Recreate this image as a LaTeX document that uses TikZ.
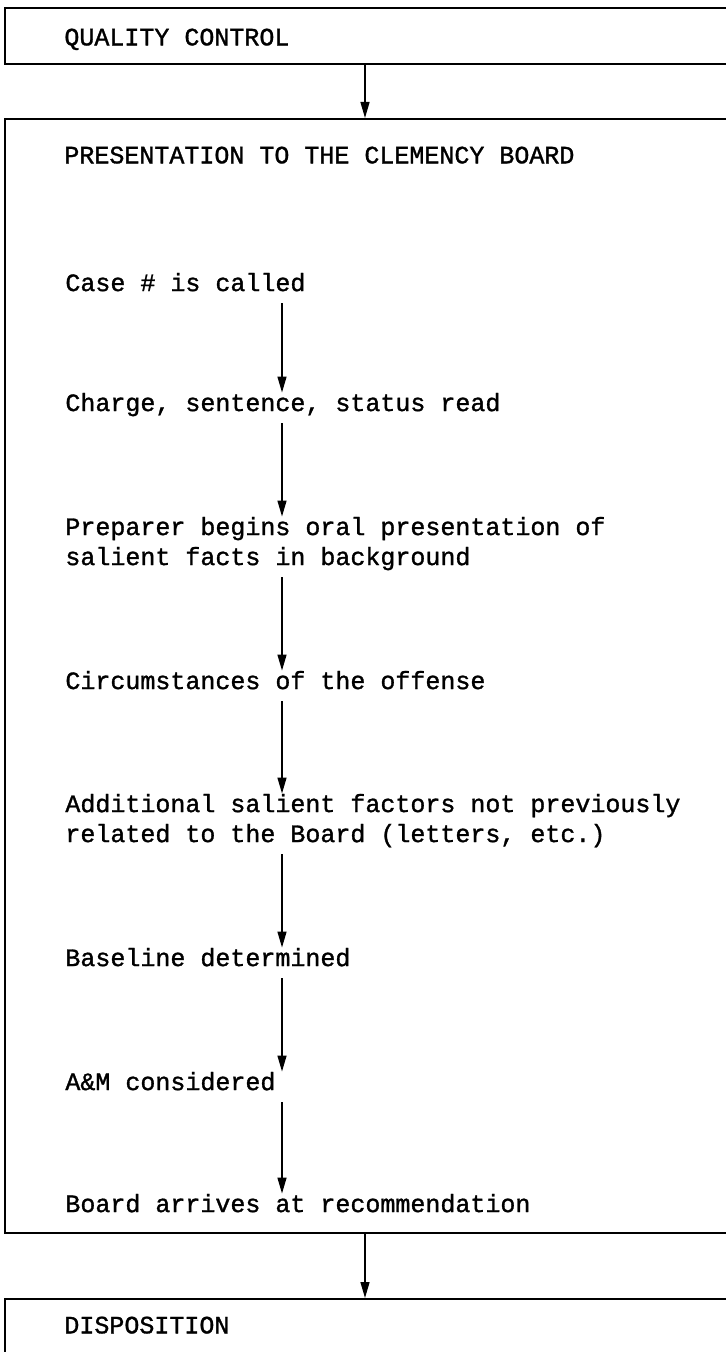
\documentclass[tikz,border=0pt]{standalone}
\usepackage{fontspec}
\newfontfamily\typed{Liberation Mono}[FakeBold=1.2]
\usetikzlibrary{arrows.meta,positioning}
\newcommand{\lstrut}{\rule[-3pt]{0pt}{9pt}}
\tikzset{
	stage/.style={draw,line width=1.2pt,anchor=north west,minimum width=370pt,inner sep=0pt},
	item/.style={anchor=west,inner sep=0pt,align=left,font=\typed\fontsize{12.5}{15}\selectfont,
		execute at begin node=\lstrut,execute at end node=\lstrut},
	flow/.style={-{Triangle[length=8pt,width=4.5pt]},line width=0.7pt},
	step flow/.style={flow,shorten <=3pt}
}

\begin{document}
\begin{tikzpicture}[x=0.5pt,y=-0.5pt]
		\useasboundingbox (0,0) rectangle (726,1352);
		\clip (0,0) rectangle (726,1352);
		
		%the three stages, open to the right
		\node[stage,minimum height=28pt] (quality) at (4,7) {};
		\node[stage,minimum height=557pt] (clemency) at (4,118) {};
		\node[stage,minimum height=60pt] (disposition) at (4,1298) {};
		
		\node[item] (qualitytext) at (64,40) {QUALITY CONTROL};
		\node[item] (clemencytext) at (64,158) {PRESENTATION TO THE CLEMENCY BOARD};
		\node[item] (dispositiontext) at (64,1328) {DISPOSITION};
		
		%steps before the board
		\node[item] (called) at (65,285) {Case \# is called};
		\node[item] (charge) at (65,405) {Charge, sentence, status read};
		\node[item] (prepare) at (65,544) {Preparer begins oral presentation of\\salient facts in background};
		\node[item] (circum) at (65,683) {Circumstances of the offense};
		\node[item] (extra) at (65,821) {Additional salient factors not previously\\related to the Board (letters, etc.)};
		\node[item] (baseline) at (65,960) {Baseline determined};
		\node[item] (aandm) at (65,1084) {A\&M considered};
		\node[item] (recommend) at (65,1206) {Board arrives at recommendation};
		
		%arrows
		\coordinate (trunk) at (365,0);
		\coordinate (spine) at (282,0);
		\draw[flow] (quality.south -| trunk) -- (clemency.north -| trunk);
		\draw[flow] (clemency.south -| trunk) -- (disposition.north -| trunk);
		\draw[step flow] (called.south -| spine) -- (charge.north -| spine);
		\draw[step flow] (charge.south -| spine) -- (prepare.north -| spine);
		\draw[step flow] (prepare.south -| spine) -- (circum.north -| spine);
		\draw[step flow] (circum.south -| spine) -- (extra.north -| spine);
		\draw[step flow] (extra.south -| spine) -- (baseline.north -| spine);
		\draw[step flow] (baseline.south -| spine) -- (aandm.north -| spine);
		\draw[step flow] (aandm.south -| spine) -- (recommend.north -| spine);
		
	\end{tikzpicture}
\end{document}
